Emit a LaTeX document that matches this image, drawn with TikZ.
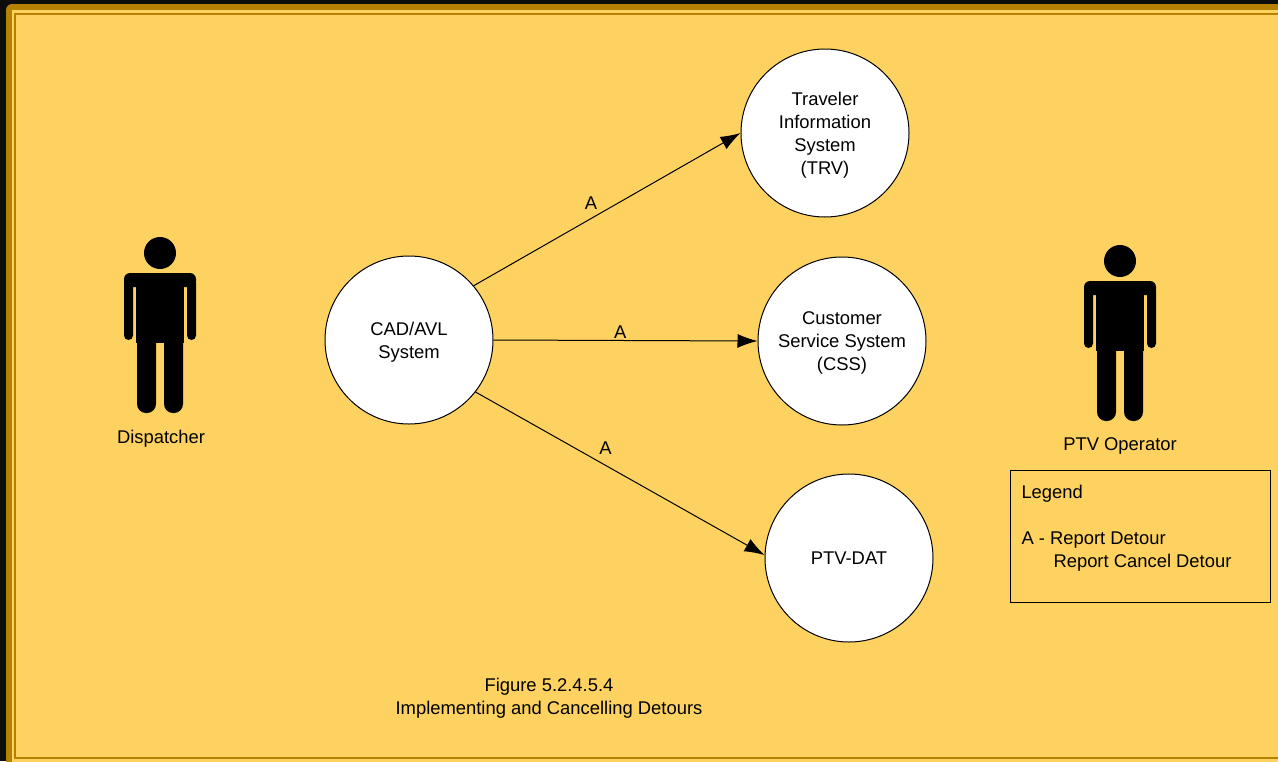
\documentclass[tikz,border=0pt]{standalone}
\usepackage{fontspec}
\setmainfont{Liberation Sans}
\usetikzlibrary{arrows.meta}
\definecolor{bgyellow}{RGB}{254,210,96}
\definecolor{framegold}{RGB}{180,130,0}
\definecolor{frameblack}{RGB}{13,13,13}
\tikzset{
  person/.pic={
    \fill (0,0) circle (16pt);
    \fill[rounded corners=6pt] (-36,20) rectangle (36,34);
    \fill[rounded corners=4.5pt] (-36,25) rectangle (-27,87);
    \fill[rounded corners=4.5pt] (27,25) rectangle (36,87);
    \fill (-24,28) rectangle (24,90);
    \fill[rounded corners=9pt] (-23,80) rectangle (-4,160);
    \fill[rounded corners=9pt] (4,80) rectangle (23,160);
  }
}
\begin{document}
\begin{tikzpicture}[x=1pt, y=-1pt, >={Latex[length=20pt,width=14pt]},
    font=\fontsize{18.4pt}{23pt}\selectfont, line width=1pt,
    every node/.style={text depth=0pt},
    process/.style={circle, draw, fill=white, minimum size=168pt, align=center, inner sep=2pt},
    legendtext/.style={anchor=base west, inner sep=0pt}]
    \useasboundingbox (0,0) rectangle (1278,761);
    \clip (0,0) rectangle (1278,761);
    \fill[frameblack] (0,0) rectangle (1278,761);
    \fill[framegold, rounded corners=6pt] (6,4) rectangle (1300,780);
    \fill[bgyellow] (12,10) rectangle (1300,780);
    \draw[framegold, line width=2pt] (15,13.5) rectangle (1300,757.5);

    \pic (dispatcherfig) at (160,253) {person};
    \node (dispatcher) at (161,437) {Dispatcher};

    \pic (ptvfig) at (1120,261) {person};
    \node (ptvoperator) at (1120,444) {PTV Operator};

    \node [process](cadavl) at (409,340) {CAD/AVL\\System};
    \node [process](trv) at (825,133) {Traveler\\Information\\System\\(TRV)};
    \node [process](css) at (842,341) {Customer\\Service System\\(CSS)};
    \node [process](ptvdat) at (849,558) {PTV-DAT};

    \draw [->] (cadavl.40) -- node[pos=0.44, above=5pt] (labelatrv) {A} (trv.west);
    \draw [->] (cadavl.east) -- node[pos=0.48, above=-2pt] (labelacss) {A} (css.west);
    \draw [->] (cadavl.-38) -- node[pos=0.45, above=7pt] (labelaptv) {A} (ptvdat.178);

    \node [draw, minimum width=260pt, minimum height=132pt](legend) at (1140,536) {};
    \node [legendtext](legendtitle) at (1021,498.5) {Legend};
    \node [legendtext](legenda) at (1021,544.5) {A - Report Detour};
    \node [legendtext](legendb) at (1053,567.5) {Report Cancel Detour};

    \node [align=center](caption) at (549,696) {Figure 5.2.4.5.4\\Implementing and Cancelling Detours};
\end{tikzpicture}
\end{document}
